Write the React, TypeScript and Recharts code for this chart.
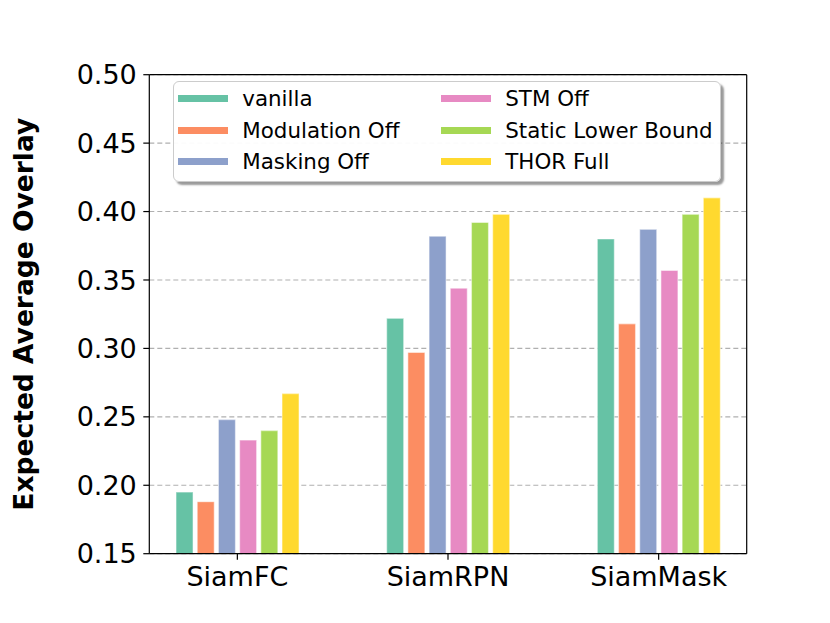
import React from 'react';
import { BarChart, Bar, XAxis, YAxis, CartesianGrid, Legend, ReferenceLine } from 'recharts';

const categories = ['SiamFC', 'SiamRPN', 'SiamMask'];
const vanilla = [0.195, 0.322, 0.380];
const modulationOff = [0.188, 0.297, 0.318];
const maskingOff = [0.248, 0.382, 0.387];
const stmOff = [0.233, 0.344, 0.357];
const staticLowerBound = [0.240, 0.392, 0.398];
const thorFull = [0.267, 0.398, 0.410];
const yTicks = [0.15, 0.2, 0.25, 0.3, 0.35, 0.4, 0.45, 0.5];

const seriesNames = ['vanilla', 'Modulation Off', 'Masking Off', 'STM Off', 'Static Lower Bound', 'THOR Full'];
const seriesValues = [vanilla, modulationOff, maskingOff, stmOff, staticLowerBound, thorFull];
const colors = ['#66c2a5', '#fc8d62', '#8da0cb', '#e78ac3', '#a6d854', '#ffd92f'];

const data = categories.map((c, i) => {
  const row: Record<string, number | string> = { x: i, name: c };
  seriesNames.forEach((s, k) => {
    row[s] = seriesValues[k][i];
  });
  return row;
});

const FONT = '"DejaVu Sans", sans-serif';

const renderLegend = (props: any) => {
  const payload = [...(props.payload || [])].sort(
    (a: any, b: any) => seriesNames.indexOf(a.value) - seriesNames.indexOf(b.value)
  );
  return (
    <div
      style={{
        position: 'relative',
        width: 548,
        height: 101,
        background: 'rgba(255,255,255,0.95)',
        border: '1px solid #cccccc',
        borderRadius: 6,
        boxShadow: '3px 3px 2px rgba(0,0,0,0.4)',
        boxSizing: 'border-box',
        fontFamily: FONT,
      }}
    >
      {payload.map((entry: any, i: number) => {
        const col = Math.floor(i / 3);
        const row = i % 3;
        const left = col === 0 ? 4 : 267;
        const top = 16.5 + row * 31.7 - 15;
        return (
          <div
            key={entry.value}
            style={{
              position: 'absolute',
              left,
              top,
              height: 30,
              display: 'flex',
              alignItems: 'center',
              whiteSpace: 'nowrap',
            }}
          >
            <div style={{ width: 50, height: 7, background: entry.color }} />
            <span style={{ marginLeft: 14, fontSize: 21.4, color: '#000', lineHeight: 'normal' }}>{entry.value}</span>
          </div>
        );
      })}
    </div>
  );
};

const YLabel = (props: any) => {
  const vb = props.viewBox || { x: 0, y: 0, width: 0, height: 0 };
  const x = vb.x + 25.5;
  const y = vb.y + vb.height / 2;
  return (
    <text
      x={x}
      y={y}
      transform={`rotate(-90 ${x} ${y})`}
      textAnchor="middle"
      fontFamily={FONT}
      fontWeight="bold"
      fontSize={26.5}
      fill="#000"
    >
      Expected Average Overlay
    </text>
  );
};

export default function App() {
  return (
    <div style={{ width: 814, height: 607, fontFamily: FONT }}>
      <BarChart
        width={814}
        height={607}
        data={data}
        margin={{ top: 66.7, right: 75.3, left: 0, bottom: 0 }}
        barSize={17}
        barGap={4.2}
        style={{ fontFamily: FONT }}
      >
        <CartesianGrid vertical={false} stroke="#b0b0b0" strokeDasharray="5 3" strokeWidth={1.1} />
        <XAxis
          dataKey="x"
          type="number"
          domain={[-0.418, 2.418]}
          ticks={[0, 1, 2]}
          interval={0}
          tickFormatter={(v: number) => categories[v] ?? ''}
          height={61.3}
          tickSize={6}
          tickMargin={7}
          tick={{ fontSize: 27, fill: '#000', fontFamily: FONT }}
          axisLine={{ stroke: '#000', strokeWidth: 1.2 }}
          tickLine={{ stroke: '#000', strokeWidth: 1.2 }}
          allowDataOverflow
        />
        <YAxis
          type="number"
          domain={[0.15, 0.5]}
          ticks={yTicks}
          interval={0}
          allowDataOverflow
          tickFormatter={(v: number) => v.toFixed(2)}
          width={141.3}
          tickSize={6}
          tickMargin={6.5}
          tick={{ fontSize: 27, fill: '#000', fontFamily: FONT }}
          axisLine={{ stroke: '#000', strokeWidth: 1.2 }}
          tickLine={{ stroke: '#000', strokeWidth: 1.2 }}
          label={<YLabel />}
        />
        {seriesNames.map((s, k) => (
          <Bar
            key={s}
            dataKey={s}
            name={s}
            fill={colors[k]}
            stroke="#ffffff"
            strokeOpacity={0.45}
            strokeWidth={1.2}
            isAnimationActive={false}
            legendType="rect"
          />
        ))}
        <ReferenceLine y={0.5} stroke="#000" strokeWidth={1.2} ifOverflow="visible" />
        <ReferenceLine x={2.418} stroke="#000" strokeWidth={1.2} ifOverflow="visible" />
        <Legend
          layout="horizontal"
          verticalAlign="middle"
          align="center"
          content={renderLegend}
          wrapperStyle={{ position: 'absolute', left: 165.3, top: 73, width: 548, height: 101 }}
        />
      </BarChart>
    </div>
  );
}
